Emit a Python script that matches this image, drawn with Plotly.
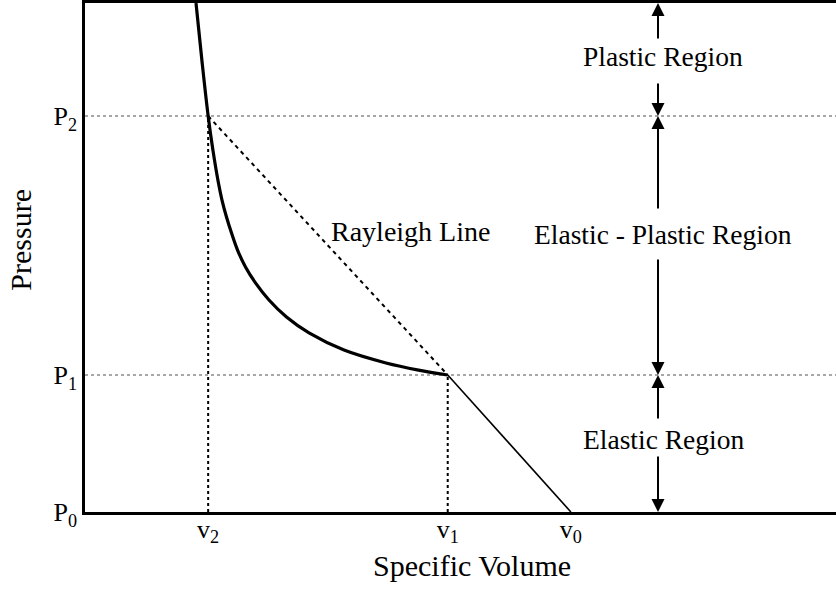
import plotly.graph_objects as go

# Reference states on the Hugoniot (arbitrary units)
state_labels_v = ["v<sub>2</sub>", "v<sub>1</sub>", "v<sub>0</sub>"]
state_v = [1.64, 4.83, 6.47]
state_labels_p = ["P<sub>0</sub>", "P<sub>1</sub>", "P<sub>2</sub>"]
state_p = [0.0, 1.0, 2.89]

# Plastic branch of the Hugoniot, from the top of the frame down to the HEL
hug_v = [1.478, 1.556, 1.64, 1.703, 1.777, 1.824, 1.884, 1.951, 2.031, 2.137,
         2.270, 2.450, 2.683, 2.983, 3.449, 4.008, 4.441, 4.83]
hug_p = [3.715, 3.299, 2.89, 2.642, 2.401, 2.277, 2.153, 2.036, 1.912, 1.788,
         1.672, 1.547, 1.423, 1.307, 1.182, 1.088, 1.036, 1.0]

x_range = [0.0, 10.0]
y_range = [0.0, 3.715]

regions = ["Plastic Region", "Elastic - Plastic Region", "Elastic Region"]
region_bounds = [(state_p[2], y_range[1]), (state_p[1], state_p[2]), (state_p[0], state_p[1])]

# Label placement and arrow-tail positions for each region (data units)
ARROW_X = 7.63
LABEL_X = 7.70
region_label_y = [3.321, 2.022, 0.526]
region_gap = [(3.139, 3.445), (1.854, 2.204), (0.416, 0.672)]

FONT = "Liberation Serif, Times New Roman, serif"

v0, v1, v2 = state_v[2], state_v[1], state_v[0]
p0, p1, p2 = state_p

fig = go.Figure()

# Horizontal dotted markers at P1 and P2
for p in (p1, p2):
    fig.add_shape(type="line", xref="paper", x0=0, x1=1, yref="y", y0=p, y1=p,
                  line=dict(color="#8a8a8a", width=1.6, dash="dot"), layer="below")

# Guide lines from the states down to the volume axis
fig.add_trace(go.Scatter(x=[v2, v2], y=[p0, p2], mode="lines",
                         line=dict(color="black", width=2, dash="dot"), hoverinfo="skip"))
fig.add_trace(go.Scatter(x=[v1, v1], y=[p0, p1], mode="lines",
                         line=dict(color="black", width=2, dash="dot"), hoverinfo="skip"))

# Rayleigh line
fig.add_trace(go.Scatter(x=[v2, v1], y=[p2, p1], mode="lines",
                         line=dict(color="black", width=2, dash="4px,4px"), hoverinfo="skip"))

# Elastic branch
fig.add_trace(go.Scatter(x=[v1, v0], y=[p1, p0], mode="lines",
                         line=dict(color="black", width=1.6), hoverinfo="skip"))

# Plastic Hugoniot
fig.add_trace(go.Scatter(x=hug_v, y=hug_p, mode="lines",
                         line=dict(color="black", width=3.2, shape="spline", smoothing=1.0),
                         hoverinfo="skip"))

annotations = []

# Region labels with double-headed arrows
for name, (lo, hi), ly, (g_lo, g_hi) in zip(regions, region_bounds, region_label_y, region_gap):
    annotations.append(dict(x=LABEL_X, y=ly, xref="x", yref="y", text=name,
                            showarrow=False, font=dict(family=FONT, size=27.5, color="black")))
    for tip, tail in ((hi, g_hi), (lo, g_lo)):
        annotations.append(dict(x=ARROW_X, y=tip, ax=ARROW_X, ay=tail,
                                xref="x", yref="y", axref="x", ayref="y",
                                text="", showarrow=True, arrowhead=2, arrowsize=1.3,
                                arrowwidth=2, arrowcolor="black", standoff=0, startstandoff=0))

annotations.append(dict(x=4.33, y=2.05, xref="x", yref="y", text="Rayleigh Line",
                        showarrow=False, font=dict(family=FONT, size=28, color="black")))

# Axis titles
annotations.append(dict(x=(472 - 85) / 751, y=-0.106, xref="paper", yref="paper",
                        text="Specific Volume", showarrow=False, yanchor="middle",
                        font=dict(family=FONT, size=30, color="black")))
annotations.append(dict(x=-0.087, y=(512 - 240) / 509, xref="paper", yref="paper",
                        text="Pressure", showarrow=False, textangle=-90, xanchor="center",
                        font=dict(family=FONT, size=30, color="black")))

fig.update_layout(
    width=836, height=589,
    margin=dict(l=85, r=0, t=3, b=77),
    plot_bgcolor="white", paper_bgcolor="white",
    showlegend=False,
    annotations=annotations,
    xaxis=dict(range=x_range, showgrid=False, zeroline=False,
               showline=True, linecolor="black", linewidth=2.5, mirror=True,
               tickmode="array", tickvals=state_v, ticktext=state_labels_v,
               ticks="", ticklabelstandoff=-8,
               tickfont=dict(family=FONT, size=26, color="black")),
    yaxis=dict(range=y_range, showgrid=False, zeroline=False,
               showline=True, linecolor="black", linewidth=2.5, mirror=False,
               tickmode="array", tickvals=state_p, ticktext=state_labels_p,
               ticks="", ticklabelstandoff=0,
               tickfont=dict(family=FONT, size=26, color="black")),
)

fig.write_html("out.html")
